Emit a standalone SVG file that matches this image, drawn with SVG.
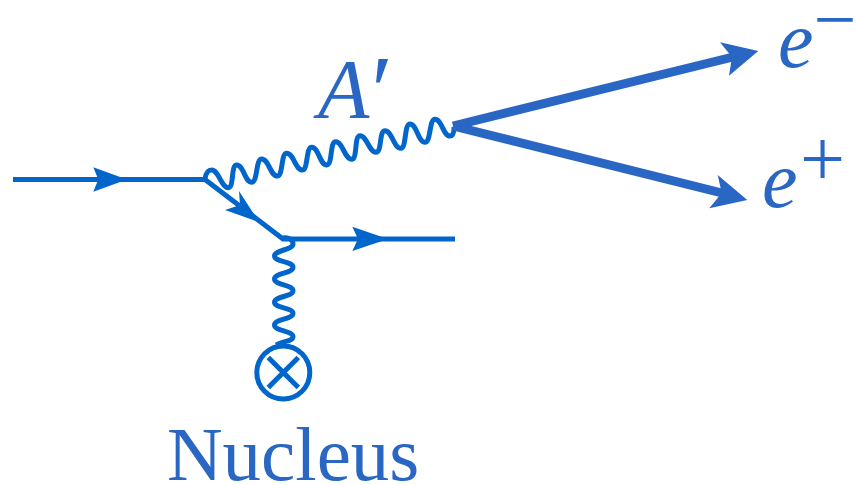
<svg xmlns="http://www.w3.org/2000/svg" width="856" height="485" viewBox="0 0 856 485">
<style>
.l{fill:none;stroke:#0066cc;stroke-width:5}
.w{fill:none;stroke:#0066cc;stroke-width:5;stroke-linejoin:round}
.a{fill:#0066cc}
.t{fill:#2a66c4;stroke:none}
.x{fill:none;stroke:#2a66c4;stroke-width:9}
.m{font-family:"Liberation Serif",serif;font-style:italic;fill:#2a66c4}
.r{font-family:"Liberation Serif",serif;fill:#2a66c4}
.n{font-style:normal}
</style>
<rect width="856" height="485" fill="#ffffff"/>
<g id="connectors">
<path class="l" d="M13 179.500H205L283 239H455"/>
<polygon class="a" points="127,179.500 93.300,167.300 98.300,179.500 93.300,191.700"/>
<polygon class="a" points="259,222 239,191 240,205 225,210"/>
<polygon class="a" points="388,239 352.300,226.700 358,239 352.300,251"/>
<path class="w" d="M205 179C206 172 208 170 211.700 170C218.700 170 221.300 187.700 228.300 187.700C234.300 187.700 230.700 165 236.700 165C243.700 165 244.700 182.300 251.700 182.300C257.700 182.300 255.700 159 261.700 159C268.700 159 270.300 176 277.300 176C283.300 176 280.700 153.300 286.700 153.300C293.700 153.300 295.300 170 302.300 170C308.300 170 305.700 147.300 311.700 147.300C318.700 147.300 319.700 165 326.700 165C332.700 165 329.700 141.700 335.700 141.700C342.700 141.700 344.700 159.300 351.700 159.300C357.700 159.300 354 135.700 360 135.700C367 135.700 369 152.300 376 152.300C382 152.300 379 130.700 385 130.700C392 130.700 393.700 148.300 400.700 148.300C406.700 148.300 404 124 410 124C417 124 418 142.300 425 142.300C431 142.300 429 119.300 435 119.300C442 119.300 443 136 450 136C453 136 454 132 454 127"/>
<path class="w" d="M283 238C289 237 293 240 293 244C293 250 274.500 250 274.500 256C274.500 262 293 261.300 293 267.300C293 273.300 274.500 273 274.500 279C274.500 285 293 284.700 293 290.700C293 296.700 274.500 296.300 274.500 302.300C274.500 308.300 293 307.300 293 313.300C293 319.300 274.500 319 274.500 325C274.500 331 293 330.700 293 336.700C293 341 284 341 276 345"/>
</g>
<g id="decay">
<path class="x" d="M453 126L733 57"/>
<path class="x" d="M453 126L722 193"/>
<polygon class="t" points="758.300,51 720,42.300 732,57 729,75.700"/>
<polygon class="t" points="747.300,200 717.700,175 721.700,193 709.300,208.300"/>
</g>
<g id="nucleus-vertex">
<circle cx="283.300" cy="372.500" r="26.500" fill="none" stroke="#0066cc" stroke-width="5"/>
<path fill="none" stroke="#0066cc" stroke-width="5" d="M268.300 357.500L298.300 387.500M298.300 357.500L268.300 387.500"/>
</g>
<g id="labels">
<text class="m" x="318" y="118" font-size="84">A<tspan font-size="100" dx="-4.300" dy="6">′</tspan></text>
<text class="m" x="778" y="67" font-size="80">e<tspan class="n" font-size="76" dx="0" dy="-22">−</tspan></text>
<text class="m" x="762" y="207" font-size="80">e<tspan class="n" dx="2.500" dy="-21">+</tspan></text>
<text class="r" x="167" y="480" font-size="77">Nucleus</text>
</g>
</svg>
